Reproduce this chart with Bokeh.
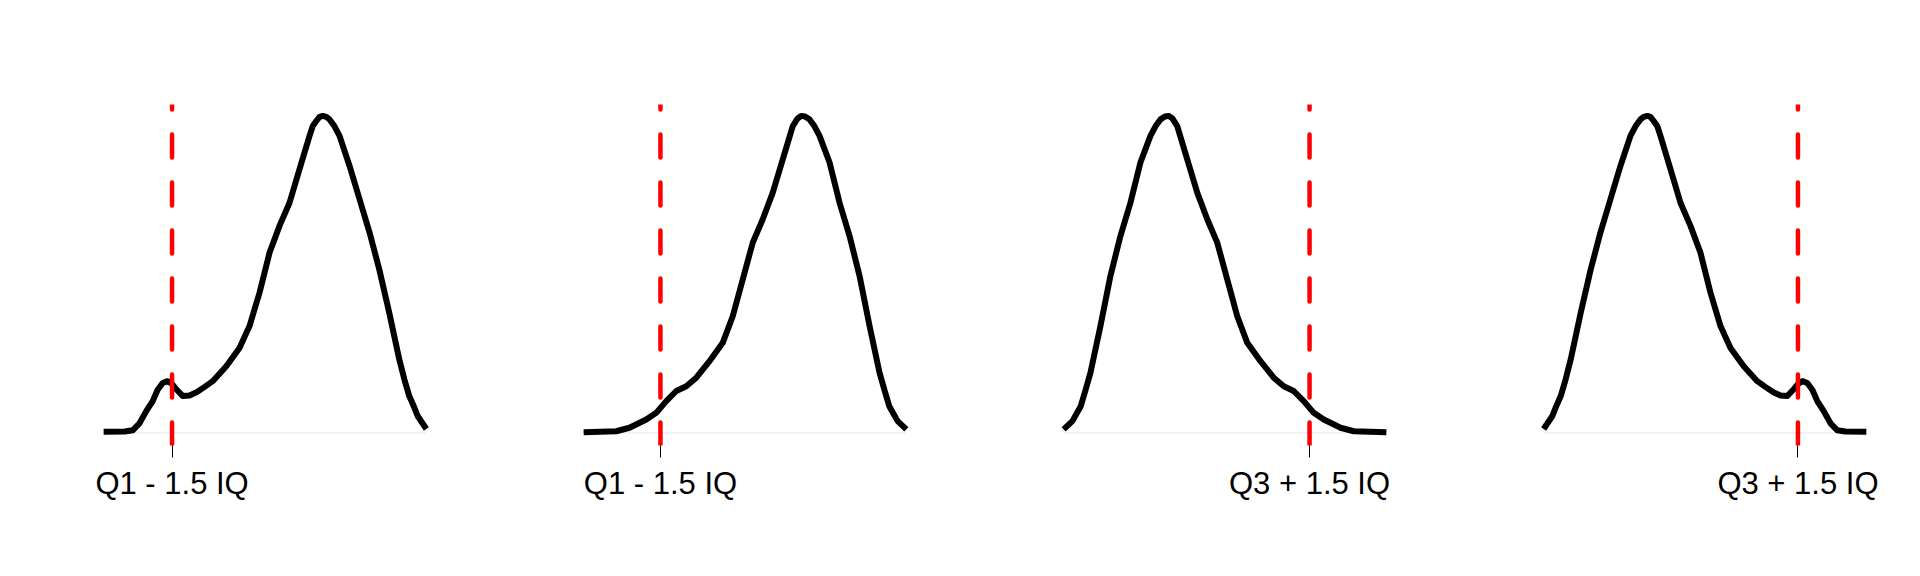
from bokeh.plotting import figure
from bokeh.layouts import row
from bokeh.models import Range1d, FixedTicker
from bokeh.embed import file_html
from bokeh.resources import INLINE

# ---- data (density curves, arbitrary units) ----
x1 = [0.00, 0.65, 0.90, 1.11, 1.33, 1.52, 1.67, 1.83, 1.98, 2.11, 2.23, 2.45, 2.66, 2.88, 3.13,
      3.38, 3.80, 4.21, 4.52, 4.83, 5.14, 5.45, 5.76, 6.07, 6.38, 6.48, 6.59, 6.69, 6.79, 6.90,
      7.00, 7.15, 7.31, 7.62, 7.93, 8.24, 8.54, 8.85, 9.16, 9.32, 9.47, 9.63, 9.73, 10.00]
d1 = [0.003, 0.004, 0.008, 0.03, 0.07, 0.10, 0.135, 0.157, 0.163, 0.155, 0.14, 0.116, 0.118,
      0.128, 0.145, 0.163, 0.21, 0.268, 0.337, 0.442, 0.568, 0.653, 0.726, 0.832, 0.937, 0.968,
      0.984, 0.997, 1.0, 0.997, 0.989, 0.968, 0.937, 0.842, 0.737, 0.632, 0.516, 0.379, 0.232,
      0.168, 0.116, 0.079, 0.053, 0.012]

x2 = [0.00, 1.01, 1.42, 1.94, 2.25, 2.56, 2.87, 3.18, 3.49, 3.90, 4.31, 4.62, 4.93, 5.24, 5.55,
      5.86, 6.17, 6.48, 6.63, 6.74, 6.86, 7.00, 7.15, 7.31, 7.62, 7.93, 8.24, 8.55, 8.86, 9.17,
      9.33, 9.47, 9.73, 10.00]
d2 = [0.002, 0.005, 0.016, 0.042, 0.063, 0.1, 0.132, 0.147, 0.174, 0.226, 0.284, 0.368, 0.484,
      0.6, 0.674, 0.758, 0.863, 0.968, 0.992, 1.0, 0.998, 0.989, 0.968, 0.937, 0.853, 0.726,
      0.621, 0.495, 0.337, 0.189, 0.132, 0.084, 0.037, 0.011]

x3 = [0.00, 0.27, 0.53, 0.67, 0.83, 1.14, 1.45, 1.76, 2.07, 2.38, 2.69, 2.85, 3.00, 3.14, 3.26,
      3.37, 3.52, 3.83, 4.14, 4.45, 4.76, 5.07, 5.38, 5.69, 6.10, 6.51, 6.82, 7.13, 7.44, 7.75,
      8.06, 8.58, 8.99, 10.00]
d3 = [0.011, 0.037, 0.084, 0.132, 0.189, 0.337, 0.495, 0.621, 0.726, 0.853, 0.937, 0.968, 0.989,
      0.998, 1.0, 0.992, 0.968, 0.863, 0.758, 0.674, 0.6, 0.484, 0.368, 0.284, 0.226, 0.174,
      0.147, 0.132, 0.1, 0.063, 0.042, 0.016, 0.005, 0.002]

x4 = [0.00, 0.27, 0.37, 0.53, 0.68, 0.84, 1.15, 1.46, 1.76, 2.07, 2.38, 2.69, 2.85, 3.00, 3.10,
      3.21, 3.31, 3.41, 3.52, 3.62, 3.93, 4.24, 4.55, 4.86, 5.17, 5.48, 5.79, 6.20, 6.62, 6.87,
      7.12, 7.34, 7.55, 7.77, 7.89, 8.02, 8.17, 8.33, 8.48, 8.67, 8.89, 9.10, 9.35, 10.00]
d4 = [0.012, 0.053, 0.079, 0.116, 0.168, 0.232, 0.379, 0.516, 0.632, 0.737, 0.842, 0.937, 0.968,
      0.989, 0.997, 1.0, 0.997, 0.984, 0.968, 0.937, 0.832, 0.726, 0.653, 0.568, 0.442, 0.337,
      0.268, 0.21, 0.163, 0.145, 0.128, 0.118, 0.116, 0.14, 0.155, 0.163, 0.157, 0.135, 0.10,
      0.07, 0.03, 0.008, 0.004, 0.003]

fence_x = [2.12, 2.38, 7.62, 7.88]
fence_labels = ["Q1 - 1.5 IQ", "Q1 - 1.5 IQ", "Q3 + 1.5 IQ", "Q3 + 1.5 IQ"]

curves = [(x1, d1), (x2, d2), (x3, d3), (x4, d4)]

Y0, Y1 = -0.040, 1.036
widths = [487, 480, 480, 457]
lefts = [87, 80, 80, 80]
figs = []
for i, ((xs, ds), fx, lab) in enumerate(zip(curves, fence_x, fence_labels)):
    w = widths[i]
    p = figure(width=w, height=560,
               x_range=Range1d(-0.5, 10.5), y_range=Range1d(Y0, Y1),
               output_backend="svg", toolbar_location=None,
               y_axis_location=None,
               min_border_left=lefts[i], min_border_right=w - lefts[i] - 355,
               min_border_top=104, min_border_bottom=115)
    p.outline_line_color = None
    p.xgrid.visible = False
    p.ygrid.visible = False
    p.background_fill_color = "white"
    p.border_fill_color = "white"

    # light baseline under the density
    p.segment(x0=[xs[0]], y0=[0], x1=[xs[-1]], y1=[0], line_color="#ebebeb", line_width=1.2)
    # density curve
    p.line(xs, ds, line_color="black", line_width=6, line_join="round")
    # fence line, drawn bottom -> top
    p.segment(x0=[fx], y0=[Y0], x1=[fx], y1=[Y1], line_color="#ff0000", line_width=4.5,
              line_dash="23 25", line_cap="round")

    ax = p.xaxis[0]
    ax.ticker = FixedTicker(ticks=[fx])
    ax.major_label_overrides = {fx: lab}
    ax.axis_line_color = None
    ax.major_tick_in = 0
    ax.major_tick_out = 12
    ax.major_tick_line_color = "black"
    ax.major_tick_line_width = 1
    ax.minor_tick_line_color = None
    ax.major_label_standoff = 8
    ax.major_label_text_font = "Liberation Sans"
    ax.major_label_text_font_size = "31px"
    ax.major_label_text_color = "black"
    figs.append(p)

layout = row(*figs, spacing=0)
open("out.html", "w").write(file_html(layout, INLINE))
